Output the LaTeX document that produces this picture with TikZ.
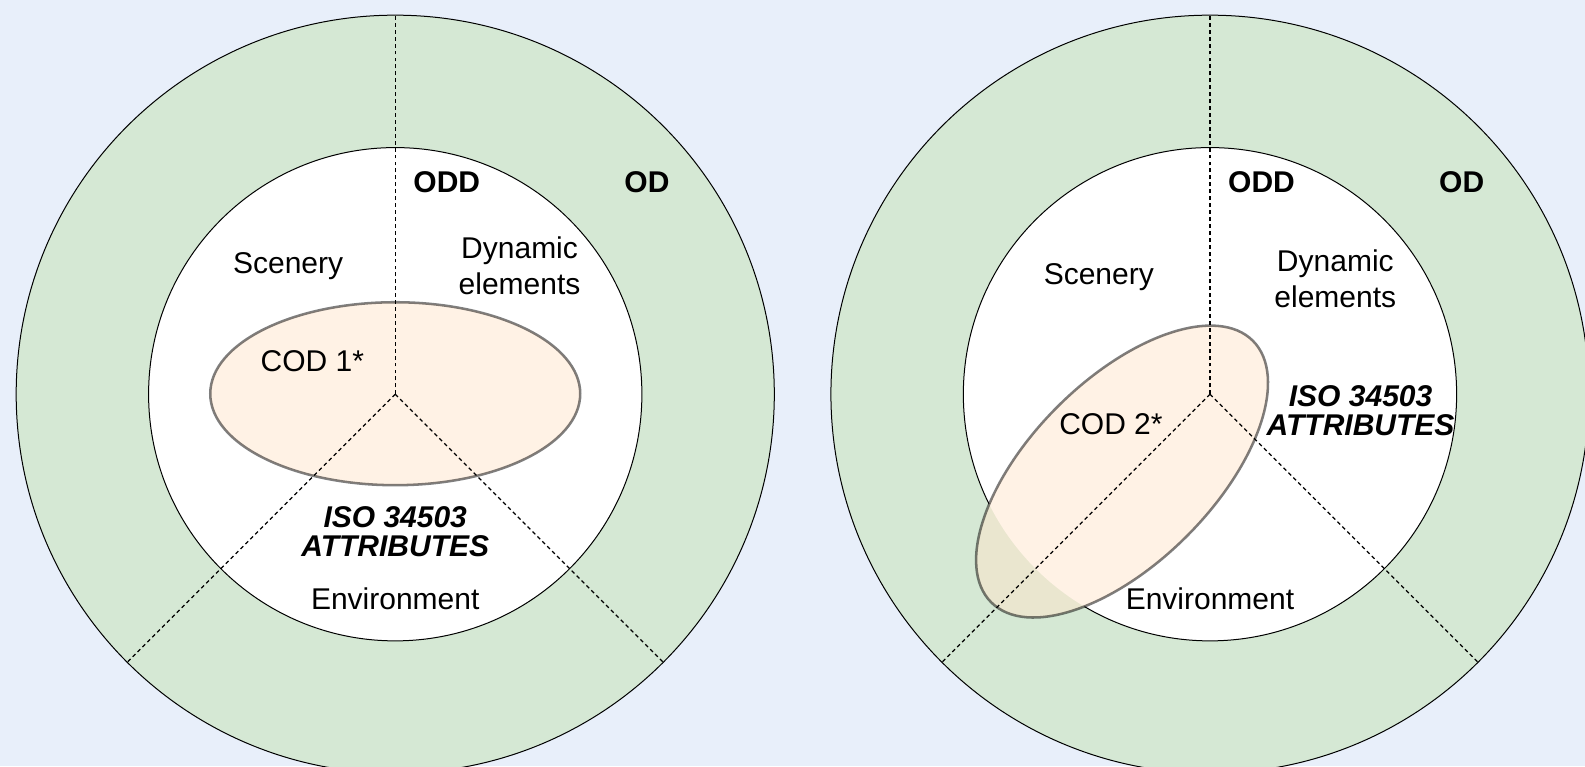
\documentclass[tikz,border=0pt]{standalone}
\usepackage{fontspec}
\setmainfont{Liberation Sans}
\definecolor{bgblue}{HTML}{E8EFFA}
\definecolor{odgreen}{HTML}{D5E8D4}
\definecolor{codpeach}{HTML}{FFE6CC}
\begin{document}
\begin{tikzpicture}[x=0.7581pt, y=0.7581pt,
  ring/.style={draw=black, line width=0.75pt},
  odarea/.style={ring, fill=odgreen},
  oddarea/.style={fill=white},
  divider/.style={draw=black, line width=0.9pt, dash pattern=on 2.9pt off 2.3pt},
  codshape/.style={fill=codpeach, fill opacity=0.5, draw=black, draw opacity=0.5, line width=1.9pt},
  lbl/.style={inner sep=0pt, align=center, font=\fontsize{22.5}{27}\selectfont},
  bold/.style={lbl, font=\fontsize{22.5}{27}\selectfont\bfseries},
  attr/.style={lbl, font=\fontsize{22.5}{21.5}\selectfont\bfseries\itshape}]
\useasboundingbox[fill=bgblue] (0,0) rectangle (1568,-758);
\clip (0,0) rectangle (1568,-758);

% ---------- left domain ----------
\coordinate (c1) at (391,-390);
\path[odarea] (c1) circle [radius=375];
\path[oddarea] (c1) circle [radius=244];
\draw[ring] (c1) circle [radius=244];
\draw[codshape] (391,-389.5) ellipse [x radius=183, y radius=90.5];
\path (c1) ++(90:375) coordinate (l-top);
\path (c1) ++(225:375) coordinate (l-sw);
\path (c1) ++(315:375) coordinate (l-se);
\draw[divider] (c1) -- (l-top);
\draw[divider] (c1) -- (l-sw);
\draw[divider] (c1) -- (l-se);

\node[bold] (l-odd) at (442,-180) {ODD};
\node[bold] (l-od) at (640,-180) {OD};
\node[lbl] (l-scen) at (285,-263) {Scenery};
\node[lbl] (l-dyn) at (514,-263) {Dynamic\\elements};
\node[lbl] (l-cod) at (309,-357) {COD 1*};
\node[attr] (l-iso) at (391,-526) {ISO 34503\\ATTRIBUTES};
\node[lbl] (l-env) at (391,-592) {Environment};

% ---------- right domain ----------
\coordinate (c2) at (1197,-390);
\path[odarea] (c2) circle [radius=375];
\path[oddarea] (c2) circle [radius=244];
% inner border, hidden where the COD 2 ellipse lies over it
\begin{scope}[even odd rule]
  \clip (c2) circle [radius=300]
    (1110,-466.5) ellipse [x radius=183, y radius=90.5, rotate=45];
  \draw[ring] (c2) circle [radius=244];
\end{scope}
\draw[codshape] (1110,-466.5) ellipse [x radius=183, y radius=90.5, rotate=45];
\path (c2) ++(90:375) coordinate (r-top);
\path (c2) ++(225:375) coordinate (r-sw);
\path (c2) ++(315:375) coordinate (r-se);
\draw[divider] (c2) -- (r-top);
\draw[divider] (c2) -- (r-sw);
\draw[divider] (c2) -- (r-se);

\node[bold] (r-odd) at (1248,-180) {ODD};
\node[bold] (r-od) at (1446,-180) {OD};
\node[lbl] (r-scen) at (1087,-274) {Scenery};
\node[lbl] (r-dyn) at (1321,-276) {Dynamic\\elements};
\node[lbl] (r-cod) at (1099,-420) {COD 2*};
\node[attr] (r-iso) at (1346,-406) {ISO 34503\\ATTRIBUTES};
\node[lbl] (r-env) at (1197,-592) {Environment};
\end{tikzpicture}
\end{document}
